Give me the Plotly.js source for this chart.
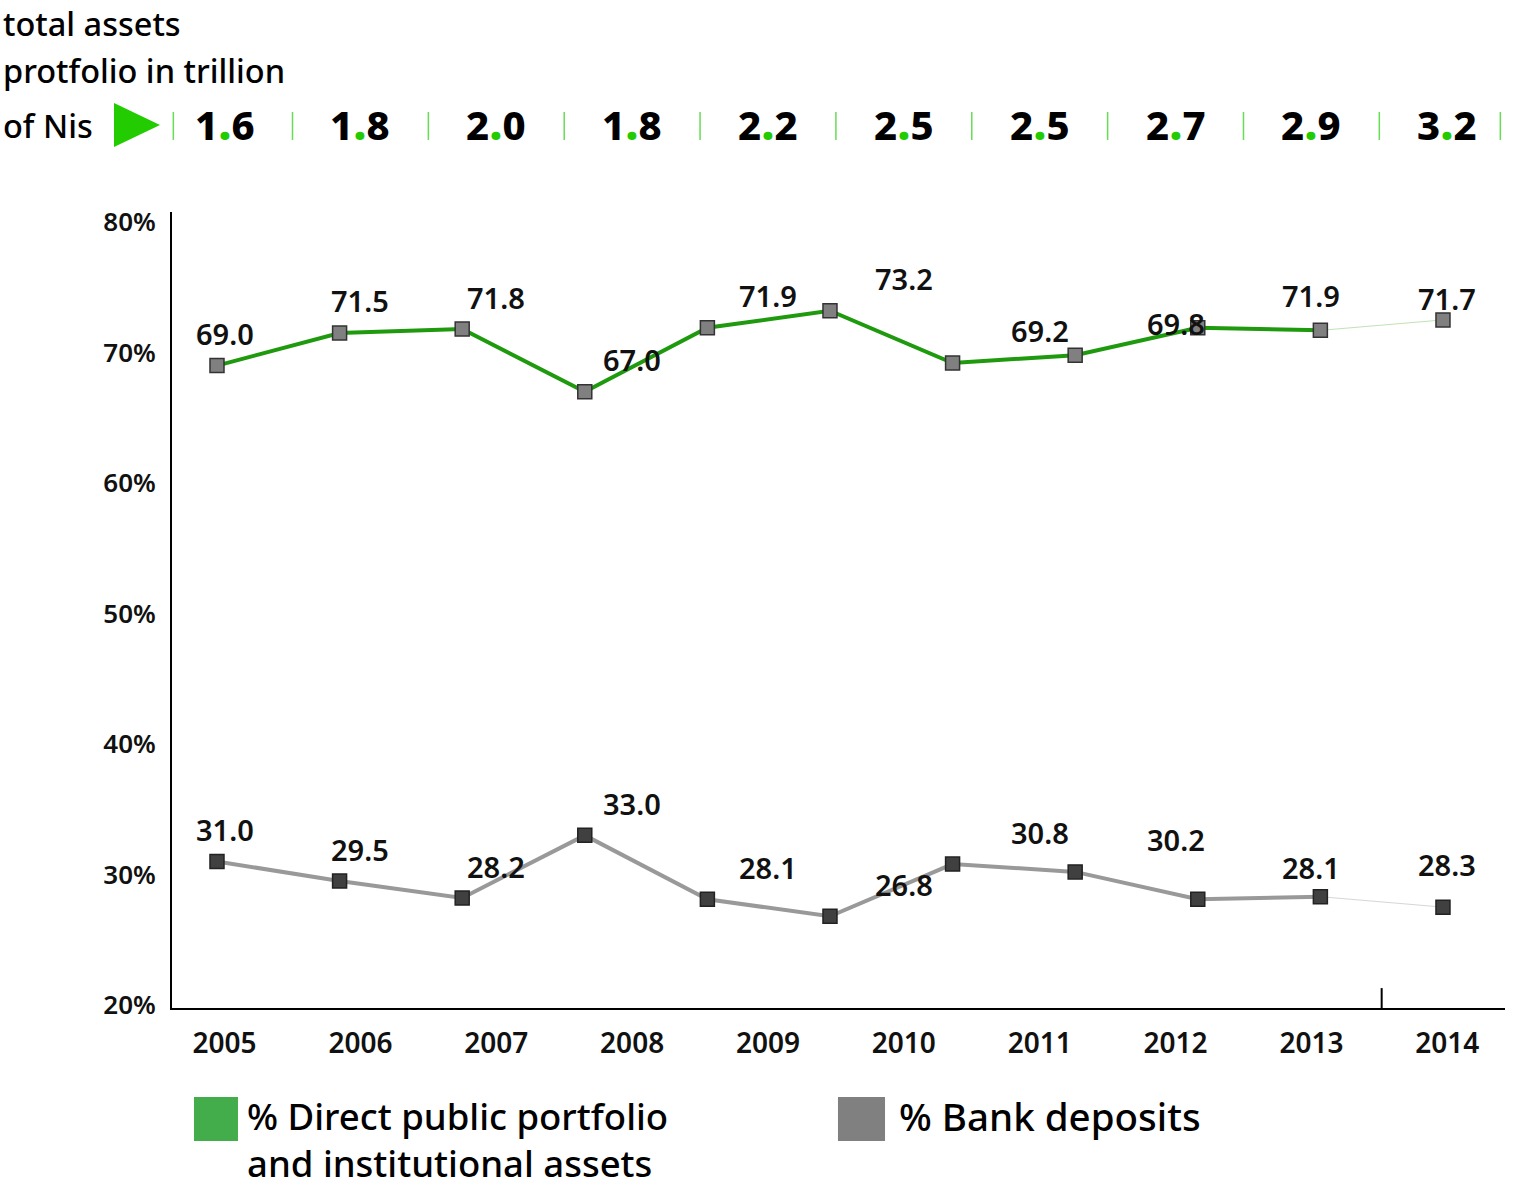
<!DOCTYPE html>
<html>
<head>
<meta charset="utf-8">
<script src="https://cdn.plot.ly/plotly-3.0.1.min.js"></script>
<style>html,body{margin:0;padding:0;background:#fff}#chart{width:1538px;height:1189px}</style>
</head>
<body>
<div id="chart"></div>
<script>
// ---- data ----
const years = ['2005','2006','2007','2008','2009','2010','2011','2012','2013','2014'];
const totalAssets = ['1.6','1.8','2.0','1.8','2.2','2.5','2.5','2.7','2.9','3.2'];
const directLabels = [69.0, 71.5, 71.8, 67.0, 71.9, 73.2, 69.2, 69.8, 71.9, 71.7];
const depositLabels = [31.0, 29.5, 28.2, 33.0, 28.1, 26.8, 30.8, 30.2, 28.1, 28.3];
// plotted markers (11 points, the last one joined by a thin line)
const directPoints = [69.0, 71.5, 71.8, 67.0, 71.9, 73.2, 69.2, 69.8, 71.9, 71.7, 72.5];
const depositPoints = [31.0, 29.5, 28.2, 33.0, 28.1, 26.8, 30.8, 30.2, 28.1, 28.3, 27.5];
const yTicks = [20, 30, 40, 50, 60, 70, 80];

const FONT = 'Noto Sans, Lato, sans-serif';
const GREEN_LINE = '#1f9a0e';
const GRAY_LINE = '#999999';
const BRIGHT = '#22cc00';

const idx = directPoints.map((_, i) => i);
const mainIdx = idx.slice(0, idx.length - 1);
const extIdx = idx.slice(idx.length - 2);
const yearIdx = years.map((_, i) => i);

function seg(arr, ids){ return ids.map(i => arr[i]); }

const traces = [
  { x: extIdx, y: seg(directPoints, extIdx), mode: 'lines', xaxis: 'x', yaxis: 'y',
    line: {color: '#bfe3b8', width: 1}, hoverinfo: 'skip', showlegend: false },
  { x: extIdx, y: seg(depositPoints, extIdx), mode: 'lines', xaxis: 'x', yaxis: 'y',
    line: {color: '#d6d6d6', width: 1}, hoverinfo: 'skip', showlegend: false },
  { x: mainIdx, y: seg(directPoints, mainIdx), mode: 'lines', xaxis: 'x', yaxis: 'y',
    line: {color: GREEN_LINE, width: 4}, showlegend: false },
  { x: mainIdx, y: seg(depositPoints, mainIdx), mode: 'lines', xaxis: 'x', yaxis: 'y',
    line: {color: GRAY_LINE, width: 4}, showlegend: false },
  { x: idx, y: directPoints, mode: 'markers', xaxis: 'x', yaxis: 'y',
    marker: {symbol: 'square', size: 14, color: '#808080', line: {color: '#333', width: 1.5}}, showlegend: false },
  { x: idx, y: depositPoints, mode: 'markers', xaxis: 'x', yaxis: 'y',
    marker: {symbol: 'square', size: 14, color: '#404040', line: {color: '#222', width: 1.5}}, showlegend: false },
  // invisible carrier trace for the year axis
  { x: yearIdx, y: directLabels, mode: 'markers', xaxis: 'x2', yaxis: 'y',
    marker: {opacity: 0}, hoverinfo: 'skip', showlegend: false }
];

const annotations = [];
yearIdx.forEach(i => {
  annotations.push({ xref: 'x2', yref: 'y', x: i, y: directLabels[i], yshift: 32, showarrow: false,
    text: directLabels[i].toFixed(1), font: {family: FONT, size: 29, color: '#111', weight: 600} });
  annotations.push({ xref: 'x2', yref: 'y', x: i, y: depositLabels[i], yshift: 32, showarrow: false,
    text: depositLabels[i].toFixed(1), font: {family: FONT, size: 29, color: '#111', weight: 600} });
  const parts = totalAssets[i].split('.');
  annotations.push({ xref: 'x2', yref: 'paper', x: i, y: 1.1135, yanchor: 'middle', showarrow: false,
    text: parts[0] + '<span style="color:' + BRIGHT + ';font-size:47px">.</span>' + parts[1],
    font: {family: FONT, size: 40, color: '#000', weight: 800} });
});
// header text
const headerLines = [['total assets', 1.2372], ['protfolio in trillion', 1.178], ['of Nis', 1.109]];
headerLines.forEach(h => annotations.push({ xref: 'paper', yref: 'paper', x: -0.1283, y: h[1],
  xanchor: 'left', yanchor: 'middle', showarrow: false, text: h[0],
  font: {family: FONT, size: 32.5, color: '#000', weight: 500} }));
// legend text
annotations.push({ xref: 'paper', yref: 'paper', x: 0.055, y: -0.1018, xanchor: 'left', yanchor: 'top',
  align: 'left', showarrow: false, text: '% Direct public portfolio<br>and institutional assets',
  font: {family: FONT, size: 36.5, color: '#000', weight: 500} });
annotations.push({ xref: 'paper', yref: 'paper', x: 0.5436, y: -0.1357, xanchor: 'left', yanchor: 'middle',
  showarrow: false, text: '% Bank deposits', font: {family: FONT, size: 38.5, color: '#000', weight: 500} });

const shapes = [];
// header separators
const sepStyle = {color: '#66dd55', width: 1.5};
shapes.push({type: 'line', xref: 'paper', yref: 'paper', x0: 0.001, x1: 0.001, y0: 1.0905, y1: 1.1256, line: sepStyle});
for (let i = 0; i < years.length - 1; i++) {
  shapes.push({type: 'line', xref: 'x2', yref: 'paper', x0: i + 0.5, x1: i + 0.5, y0: 1.0905, y1: 1.1256, line: sepStyle});
}
shapes.push({type: 'line', xref: 'paper', yref: 'paper', x0: 0.9965, x1: 0.9965, y0: 1.0905, y1: 1.1256, line: sepStyle});
// header triangle
shapes.push({type: 'path', xref: 'paper', yref: 'paper',
  path: 'M -0.0435 1.137 L -0.009 1.1093 L -0.0435 1.0817 Z', fillcolor: BRIGHT, line: {width: 0}});
// small tick on x axis between the last two points
shapes.push({type: 'line', xref: 'x', yref: 'paper', x0: idx.length - 1.5, x1: idx.length - 1.5, y0: 0, y1: 0.025,
  line: {color: '#000', width: 2}});
// legend squares
shapes.push({type: 'rect', xref: 'paper', yref: 'paper', x0: 0.0165, x1: 0.0495, y0: -0.1671, y1: -0.1118,
  fillcolor: '#42ad4a', line: {width: 0}});
shapes.push({type: 'rect', xref: 'paper', yref: 'paper', x0: 0.4996, x1: 0.5349, y0: -0.1671, y1: -0.1118,
  fillcolor: '#808080', line: {width: 0}});

const layout = {
  width: 1538, height: 1189,
  margin: {l: 172, r: 33, t: 212, b: 181},
  paper_bgcolor: '#fff', plot_bgcolor: '#fff',
  showlegend: false,
  font: {family: FONT, color: '#000'},
  xaxis: { range: [-0.367, 10.506], showgrid: false, zeroline: false, showticklabels: false,
    showline: true, linecolor: '#000', linewidth: 2, ticks: '', fixedrange: true },
  xaxis2: { overlaying: 'x', anchor: 'y', side: 'bottom', range: [-0.387, 9.425],
    tickvals: yearIdx, ticktext: years, showgrid: false, zeroline: false, showline: false,
    ticks: 'outside', ticklen: 10, tickcolor: 'rgba(0,0,0,0)',
    tickfont: {family: FONT, size: 28, color: '#111', weight: 600} },
  yaxis: { range: [19.77, 80.77], tickvals: yTicks, ticktext: yTicks.map(v => v + '%'),
    showgrid: false, zeroline: false,
    showline: true, linecolor: '#000', linewidth: 2, ticks: 'outside', ticklen: 9, tickcolor: 'rgba(0,0,0,0)',
    tickfont: {family: FONT, size: 26, color: '#111', weight: 600} },
  annotations: annotations,
  shapes: shapes
};

Plotly.newPlot('chart', traces, layout, {displayModeBar: false, staticPlot: true});
</script>
</body>
</html>
